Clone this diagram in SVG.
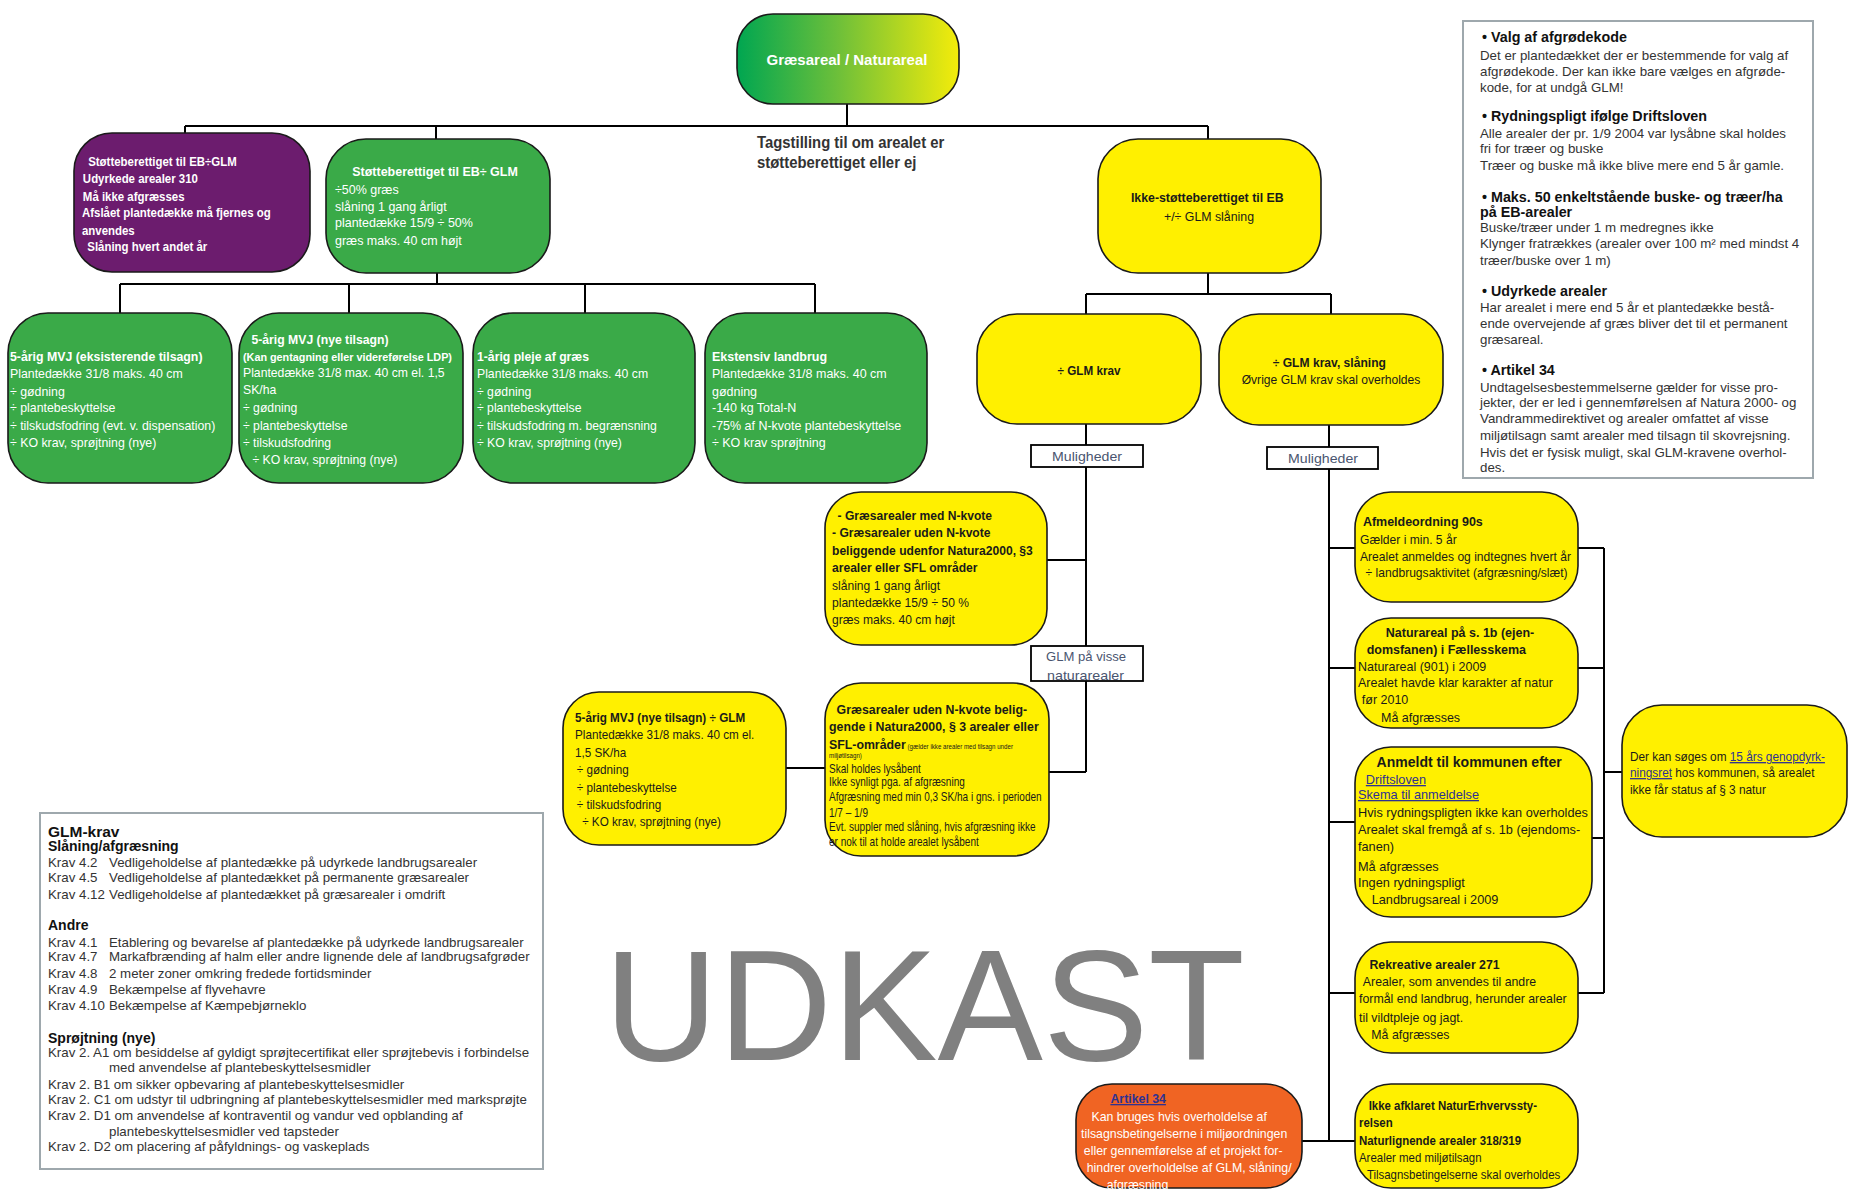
<svg xmlns="http://www.w3.org/2000/svg" width="1855" height="1189" viewBox="0 0 1855 1189">
<defs>
<linearGradient id="gTitle" x1="0" y1="0" x2="1" y2="0">
<stop offset="0" stop-color="#00a651"/>
<stop offset="0.45" stop-color="#6cbf3a"/>
<stop offset="1" stop-color="#f4ec0a"/>
</linearGradient>
<style>
.n{stroke:#1a1a1a;stroke-width:1.6}
.g{fill:#3aaa48}
.p{fill:#6c1c6e}
.y{fill:#fff000}
.o{fill:#f06423}
.c{fill:none;stroke:#000;stroke-width:2}
.box{fill:#fff;stroke:#000;stroke-width:1.8}
.leg{fill:none;stroke:#9ea8ad;stroke-width:2}
.t{font-family:"Liberation Sans",Arial,sans-serif;font-size:13px}
.s{font-family:"Liberation Sans",Arial,sans-serif;font-size:13.3px;fill:#333}
.w{fill:#fff}
.k{fill:#1a1a1a}
.b{font-weight:bold}
.lk{fill:#2e3192;text-decoration:underline}
.m{font-family:"Liberation Sans",Arial,sans-serif;font-size:13.5px;fill:#4a5570}
</style>
</defs>

<g id="connectors">
<path class="c" d="M847 104V126M185 126H1208M185 126V133M436 126V139M1208 126V139"/>
<path class="c" d="M437 273V284M120 284H815M120 284V313M349 284V313M585 284V313M815 284V313"/>
<path class="c" d="M1208 273V294M1086 294H1331M1086 294V314M1331 294V314"/>
<path class="c" d="M1086 424V445M1086 467V772M1047 560H1086M1049 772H1086M786 768H825"/>
<path class="c" d="M1329 425V447M1329 469V1141M1329 548H1355M1329 668H1355M1329 822H1355M1329 993H1355M1302 1141H1355"/>
<path class="c" d="M1604 548V993M1578 548H1604M1578 668H1604M1592 838H1604M1578 993H1604M1604 772H1622"/>
</g>

<g id="title">
<rect class="n" x="737" y="14" width="222" height="90" rx="36" fill="url(#gTitle)"/>
<text class="t w b" x="847" y="65" text-anchor="middle" style="font-size:15px">Græsareal / Naturareal</text>
</g>

<g id="label-tagstilling">
<g transform="matrix(0.93,0,0,1,52.99,0)">
<text class="t b" fill="#333" x="757" y="148" style="font-size:16px">Tagstilling til om arealet er</text>
<text class="t b" fill="#333" x="757" y="168" style="font-size:16px">støtteberettiget eller ej</text>
</g>
</g>

<g id="node-udyrkede">
<rect class="n p" x="74" y="133" width="236" height="139" rx="38"/>
<g transform="matrix(0.88,0,0,1,9.84,0)">
<text class="t w b">
<tspan x="89" y="166">Støtteberettiget til EB÷GLM</tspan>
<tspan x="83" y="183">Udyrkede arealer 310</tspan>
<tspan x="83" y="201">Må ikke afgræsses</tspan>
<tspan x="82" y="217">Afslået plantedække må fjernes og</tspan>
<tspan x="82" y="235">anvendes</tspan>
<tspan x="88" y="251"> Slåning hvert andet år</tspan>
</text>
</g>
</g>

<g id="node-stoette">
<rect class="n g" x="326" y="139" width="224" height="134" rx="40"/>
<g transform="matrix(0.96,0,0,1,13.4,0)">
<text class="t w">
<tspan class="b" x="353" y="176">Støtteberettiget til EB÷ GLM</tspan>
<tspan x="335" y="194">÷50% græs</tspan>
<tspan x="335" y="211">slåning 1 gang årligt</tspan>
<tspan x="335" y="227">plantedække 15/9 ÷ 50%</tspan>
<tspan x="335" y="245"> græs maks. 40 cm højt</tspan>
</text>
</g>
</g>

<g id="node-mvj-eks">
<rect class="n g" x="8" y="313" width="224" height="170" rx="40"/>
<g transform="matrix(0.95,0,0,1,0.5,0)">
<text class="t w">
<tspan class="b" x="10" y="361">5-årig MVJ (eksisterende tilsagn)</tspan>
<tspan x="10" y="378">Plantedække 31/8 maks. 40 cm</tspan>
<tspan x="10" y="396">÷ gødning</tspan>
<tspan x="10" y="412">÷ plantebeskyttelse</tspan>
<tspan x="10" y="430">÷ tilskudsfodring (evt. v. dispensation)</tspan>
<tspan x="10" y="447">÷ KO krav, sprøjtning (nye)</tspan>
</text>
</g>
</g>

<g id="node-mvj-nye">
<rect class="n g" x="239" y="313" width="224" height="170" rx="40"/>
<g transform="matrix(0.94,0,0,1,14.58,0)">
<text class="t w">
<tspan class="b" x="252" y="344">5-årig MVJ (nye tilsagn)</tspan>
<tspan class="b" x="243" y="361" font-size="11.5">(Kan gentagning eller videreførelse LDP)</tspan>
<tspan x="243" y="377">Plantedække 31/8 max. 40 cm el. 1,5</tspan>
<tspan x="243" y="394">SK/ha</tspan>
<tspan x="243" y="412">÷ gødning</tspan>
<tspan x="243" y="430">÷ plantebeskyttelse</tspan>
<tspan x="243" y="447">÷ tilskudsfodring</tspan>
<tspan x="253" y="464">÷ KO krav, sprøjtning (nye)</tspan>
</text>
</g>
</g>

<g id="node-pleje">
<rect class="n g" x="473" y="313" width="222" height="170" rx="40"/>
<g transform="matrix(0.94,0,0,1,28.62,0)">
<text class="t w">
<tspan class="b" x="477" y="361">1-årig pleje af græs</tspan>
<tspan x="477" y="378">Plantedække 31/8 maks. 40 cm</tspan>
<tspan x="477" y="396">÷ gødning</tspan>
<tspan x="477" y="412">÷ plantebeskyttelse</tspan>
<tspan x="477" y="430">÷ tilskudsfodring m. begrænsning</tspan>
<tspan x="477" y="447">÷ KO krav, sprøjtning (nye)</tspan>
</text>
</g>
</g>

<g id="node-ekstensiv">
<rect class="n g" x="705" y="313" width="222" height="170" rx="40"/>
<g transform="matrix(0.96,0,0,1,28.48,0)">
<text class="t w">
<tspan class="b" x="712" y="361">Ekstensiv landbrug</tspan>
<tspan x="712" y="378">Plantedække 31/8 maks. 40 cm</tspan>
<tspan x="712" y="396">gødning</tspan>
<tspan x="712" y="412">-140 kg Total-N</tspan>
<tspan x="712" y="430">-75% af N-kvote plantebeskyttelse</tspan>
<tspan x="712" y="447">÷ KO krav sprøjtning</tspan>
</text>
</g>
</g>

<g id="node-ikke-stoette">
<rect class="n y" x="1098" y="139" width="223" height="134" rx="40"/>
<g transform="matrix(0.95,0,0,1,60.45,0)">
<text class="t k" text-anchor="middle">
<tspan class="b" x="1209" y="202">Ikke-støtteberettiget til EB</tspan>
<tspan x="1209" y="221">+/÷ GLM slåning</tspan>
</text>
</g>
</g>

<g id="node-glm-krav">
<rect class="n y" x="977" y="314" width="224" height="110" rx="40"/>
<g transform="matrix(0.9,0,0,1,108.9,0)">
<text class="t k b" x="1089" y="375" text-anchor="middle">÷ GLM krav</text>
</g>
</g>

<g id="node-glm-slaaning">
<rect class="n y" x="1219" y="314" width="224" height="111" rx="40"/>
<g transform="matrix(0.93,0,0,1,93.17,0)">
<text class="t k" text-anchor="middle">
<tspan class="b" x="1331" y="367">÷ GLM krav, slåning</tspan>
<tspan x="1331" y="384">Øvrige GLM krav skal overholdes</tspan>
</text>
</g>
</g>

<g id="box-muligheder-1">
<rect class="box" x="1031" y="445" width="112" height="22"/>
<text class="m" x="1052" y="461" textLength="70" lengthAdjust="spacingAndGlyphs">Muligheder</text>
</g>
<g id="box-muligheder-2">
<rect class="box" x="1267" y="447" width="111" height="22"/>
<text class="m" x="1288" y="463" textLength="70" lengthAdjust="spacingAndGlyphs">Muligheder</text>
</g>

<g id="box-glm-visse">
<rect x="1031" y="646" width="112" height="35" fill="#fff"/>
<text class="m"><tspan x="1046" y="661" textLength="80" lengthAdjust="spacingAndGlyphs">GLM på visse</tspan></text>
<text class="m"><tspan x="1047" y="680" textLength="77" lengthAdjust="spacingAndGlyphs">naturarealer</tspan></text>
<rect x="1031" y="646" width="112" height="35" fill="none" stroke="#000" stroke-width="1.8"/>
</g>

<g id="node-n-kvote">
<rect class="n y" x="825" y="492" width="222" height="153" rx="36"/>
<g transform="matrix(0.93,0,0,1,58.24,0)">
<text class="t k">
<tspan class="b" x="838" y="520"> - Græsarealer med N-kvote</tspan>
<tspan class="b" x="832" y="537">- Græsarealer uden N-kvote</tspan>
<tspan class="b" x="832" y="555">beliggende udenfor Natura2000, §3</tspan>
<tspan class="b" x="832" y="572">arealer eller SFL områder</tspan>
<tspan x="832" y="590">slåning 1 gang årligt</tspan>
<tspan x="832" y="607">plantedække 15/9 ÷ 50 %</tspan>
<tspan x="832" y="624"> græs maks. 40 cm højt</tspan>
</text>
</g>
</g>

<g id="node-natura2000">
<rect class="n y" x="825" y="683" width="224" height="173" rx="36"/>
<g transform="matrix(0.95,0,0,1,41.45,0)">
<text class="t k">
<tspan class="b" x="837" y="714">Græsarealer uden N-kvote belig-</tspan>
<tspan class="b" x="829" y="731">gende i Natura2000, § 3 arealer eller</tspan>
<tspan class="b" x="829" y="749">SFL-områder</tspan><tspan font-size="6.5"> (gælder ikke arealer med tilsagn under</tspan>
<tspan font-size="6.5" x="829" y="758">miljøtilsagn)</tspan>
</text>
</g>
<g transform="matrix(0.835,0,0,1,136.785,0)">
<text class="t k" style="font-size:12px">
<tspan x="829" y="773">Skal holdes lysåbent</tspan>
<tspan x="829" y="786">Ikke synligt pga. af afgræsning</tspan>
<tspan x="829" y="801">Afgræsning med min 0,3 SK/ha i gns. i perioden</tspan>
<tspan x="829" y="817">1/7 – 1/9</tspan>
<tspan x="829" y="831">Evt. suppler med slåning, hvis afgræsning ikke</tspan>
<tspan x="829" y="846"> er nok til at holde arealet lysåbent</tspan>
</text>
</g>
</g>

<g id="node-mvj-glm">
<rect class="n y" x="563" y="692" width="223" height="153" rx="36"/>
<g transform="matrix(0.9,0,0,1,57.5,0)">
<text class="t k">
<tspan class="b" x="575" y="722">5-årig MVJ (nye tilsagn) ÷ GLM</tspan>
<tspan x="575" y="739">Plantedække 31/8 maks. 40 cm el.</tspan>
<tspan x="575" y="757">1,5 SK/ha</tspan>
<tspan x="577" y="774">÷ gødning</tspan>
<tspan x="577" y="792">÷ plantebeskyttelse</tspan>
<tspan x="577" y="809">÷ tilskudsfodring</tspan>
<tspan x="583" y="826">÷ KO krav, sprøjtning (nye)</tspan>
</text>
</g>
</g>

<g id="node-afmelde">
<rect class="n y" x="1355" y="492" width="223" height="110" rx="36"/>
<g transform="matrix(0.96,0,0,1,54.4,0)">
<text class="t k b" x="1363" y="526">Afmeldeordning 90s</text>
</g>
<g transform="matrix(0.93,0,0,1,95.2,0)">
<text class="t k">
<tspan x="1360" y="544">Gælder i min. 5 år</tspan>
<tspan x="1360" y="561">Arealet anmeldes og indtegnes hvert år</tspan>
<tspan x="1366" y="577"> ÷ landbrugsaktivitet (afgræsning/slæt)</tspan>
</text>
</g>
</g>

<g id="node-naturareal">
<rect class="n y" x="1355" y="618" width="223" height="110" rx="36"/>
<g transform="matrix(0.96,0,0,1,54.32,0)">
<text class="t k">
<tspan class="b" x="1387" y="637">Naturareal på s. 1b (ejen-</tspan>
<tspan class="b" x="1367" y="654">domsfanen) i Fællesskema</tspan>
<tspan x="1358" y="671">Naturareal (901) i 2009</tspan>
<tspan x="1358" y="687">Arealet havde klar karakter af natur</tspan>
<tspan x="1362" y="704">før 2010</tspan>
<tspan x="1382" y="722">Må afgræsses</tspan>
</text>
</g>
</g>

<g id="node-anmeldt">
<rect class="n y" x="1355" y="747" width="237" height="170" rx="36"/>
<g transform="matrix(0.98,0,0,1,27.16,0)">
<text class="t k">
<tspan class="b" x="1377" y="767" font-size="14.3">Anmeldt til kommunen efter</tspan>
<tspan class="lk" x="1366" y="784">Driftsloven</tspan>
<tspan class="lk" x="1358" y="799">Skema til anmeldelse</tspan>
<tspan x="1358" y="817">Hvis rydningspligten ikke kan overholdes</tspan>
<tspan x="1358" y="834">Arealet skal fremgå af s. 1b (ejendoms-</tspan>
<tspan x="1358" y="851">fanen)</tspan>
<tspan x="1358" y="871">Må afgræsses</tspan>
<tspan x="1358" y="887">Ingen rydningspligt</tspan>
<tspan x="1372" y="904">Landbrugsareal i 2009</tspan>
</text>
</g>
</g>

<g id="node-genopdyrk">
<rect class="n y" x="1622" y="705" width="225" height="132" rx="40"/>
<g transform="matrix(0.91,0,0,1,146.7,0)">
<text class="t k">
<tspan x="1630" y="761">Der kan søges om </tspan><tspan class="lk">15 års genopdyrk-</tspan>
<tspan class="lk" x="1630" y="777">ningsret</tspan><tspan> hos kommunen, så arealet</tspan>
<tspan x="1630" y="794">ikke får status af § 3 natur</tspan>
</text>
</g>
</g>

<g id="node-rekreative">
<rect class="n y" x="1355" y="942" width="223" height="111" rx="36"/>
<g transform="matrix(0.95,0,0,1,67.95,0)">
<text class="t k">
<tspan class="b" x="1370" y="969">Rekreative arealer 271</tspan>
<tspan x="1363" y="986">Arealer, som anvendes til andre</tspan>
<tspan x="1359" y="1003">formål end landbrug, herunder arealer</tspan>
<tspan x="1359" y="1022">til vildtpleje og jagt.</tspan>
<tspan x="1372" y="1039">Må afgræsses</tspan>
</text>
</g>
</g>

<g id="node-ikke-afklaret">
<rect class="n y" x="1355" y="1084" width="223" height="104" rx="36"/>
<g transform="matrix(0.88,0,0,1,163.08,0)">
<text class="t k">
<tspan class="b" x="1370" y="1110">Ikke afklaret NaturErhvervssty-</tspan>
<tspan class="b" x="1359" y="1127">relsen</tspan>
<tspan class="b" x="1359" y="1145">Naturlignende arealer 318/319</tspan>
<tspan x="1359" y="1162">Arealer med miljøtilsagn</tspan>
<tspan x="1368" y="1179">Tilsagnsbetingelserne skal overholdes</tspan>
</text>
</g>
</g>

<g id="node-artikel34">
<rect class="n o" x="1076" y="1084" width="226" height="104" rx="36"/>
<g transform="matrix(0.95,0,0,1,54.05,0)">
<text class="t w">
<tspan class="lk b" x="1112" y="1103">Artikel 34</tspan>
<tspan x="1092" y="1121">Kan bruges hvis overholdelse af</tspan>
<tspan x="1081" y="1138">tilsagnsbetingelserne i miljøordningen</tspan>
<tspan x="1084" y="1155">eller gennemførelse af et projekt for-</tspan>
<tspan x="1087" y="1172">hindrer overholdelse af GLM, slåning/</tspan>
<tspan x="1108" y="1189">afgræsning</tspan>
</text>
</g>
</g>

<g id="legend-right">
<rect class="leg" x="1463" y="21" width="350" height="457"/>
<text class="s">
<tspan class="b" fill="#111" font-size="14.3" x="1482" y="42">• Valg af afgrødekode</tspan>
<tspan x="1480" y="60">Det er plantedækket der er bestemmende for valg af</tspan>
<tspan x="1480" y="76">afgrødekode. Der kan ikke bare vælges en afgrøde-</tspan>
<tspan x="1480" y="92">kode, for at undgå GLM!</tspan>
<tspan class="b" fill="#111" font-size="14.3" x="1482" y="121">• Rydningspligt ifølge Driftsloven</tspan>
<tspan x="1480" y="138">Alle arealer der pr. 1/9 2004 var lysåbne skal holdes</tspan>
<tspan x="1480" y="153">fri for træer og buske</tspan>
<tspan x="1480" y="170">Træer og buske må ikke blive mere end 5 år gamle.</tspan>
<tspan class="b" fill="#111" font-size="14.3" x="1482" y="202">• Maks. 50 enkeltstående buske- og træer/ha</tspan>
<tspan class="b" fill="#111" font-size="14.3" x="1480" y="217">på EB-arealer</tspan>
<tspan x="1480" y="232">Buske/træer under 1 m medregnes ikke</tspan>
<tspan x="1480" y="248">Klynger fratrækkes (arealer over 100 m² med mindst 4</tspan>
<tspan x="1480" y="265">træer/buske over 1 m)</tspan>
<tspan class="b" fill="#111" font-size="14.3" x="1482" y="296">• Udyrkede arealer</tspan>
<tspan x="1480" y="312">Har arealet i mere end 5 år et plantedække bestå-</tspan>
<tspan x="1480" y="328">ende overvejende af græs bliver det til et permanent</tspan>
<tspan x="1480" y="344">græsareal.</tspan>
<tspan class="b" fill="#111" font-size="14.3" x="1482" y="375">• Artikel 34</tspan>
<tspan x="1480" y="392">Undtagelsesbestemmelserne gælder for visse pro-</tspan>
<tspan x="1480" y="407">jekter, der er led i gennemførelsen af Natura 2000- og</tspan>
<tspan x="1480" y="423">Vandrammedirektivet og arealer omfattet af visse</tspan>
<tspan x="1480" y="440">miljøtilsagn samt arealer med tilsagn til skovrejsning.</tspan>
<tspan x="1480" y="457">Hvis det er fysisk muligt, skal GLM-kravene overhol-</tspan>
<tspan x="1480" y="472">des.</tspan>
</text>
</g>

<g id="legend-bottom">
<rect class="leg" x="40" y="813" width="503" height="356"/>
<text class="s">
<tspan class="b" fill="#111" font-size="15.5" x="48" y="837">GLM-krav</tspan>
<tspan class="b" fill="#111" font-size="14" x="48" y="851">Slåning/afgræsning</tspan>
<tspan x="48" y="867">Krav 4.2</tspan><tspan x="109">Vedligeholdelse af plantedække på udyrkede landbrugsarealer</tspan>
<tspan x="48" y="882">Krav 4.5</tspan><tspan x="109">Vedligeholdelse af plantedækket på permanente græsarealer</tspan>
<tspan x="48" y="899">Krav 4.12</tspan><tspan x="109">Vedligeholdelse af plantedækket på græsarealer i omdrift</tspan>
<tspan class="b" fill="#111" font-size="14" x="48" y="930">Andre</tspan>
<tspan x="48" y="947">Krav 4.1</tspan><tspan x="109">Etablering og bevarelse af plantedække på udyrkede landbrugsarealer</tspan>
<tspan x="48" y="961">Krav 4.7</tspan><tspan x="109">Markafbrænding af halm eller andre lignende dele af landbrugsafgrøder</tspan>
<tspan x="48" y="978">Krav 4.8</tspan><tspan x="109">2 meter zoner omkring fredede fortidsminder</tspan>
<tspan x="48" y="994">Krav 4.9</tspan><tspan x="109">Bekæmpelse af flyvehavre</tspan>
<tspan x="48" y="1010">Krav 4.10</tspan><tspan x="109">Bekæmpelse af Kæmpebjørneklo</tspan>
<tspan class="b" fill="#111" font-size="14" x="48" y="1043">Sprøjtning (nye)</tspan>
<tspan x="48" y="1057">Krav 2. A1 om besiddelse af gyldigt sprøjtecertifikat eller sprøjtebevis i forbindelse</tspan>
<tspan x="109" y="1072">med anvendelse af plantebeskyttelsesmidler</tspan>
<tspan x="48" y="1089">Krav 2. B1 om sikker opbevaring af plantebeskyttelsesmidler</tspan>
<tspan x="48" y="1104">Krav 2. C1 om udstyr til udbringning af plantebeskyttelsesmidler med marksprøjte</tspan>
<tspan x="48" y="1120">Krav 2. D1 om anvendelse af kontraventil og vandur ved opblanding af</tspan>
<tspan x="109" y="1136">plantebeskyttelsesmidler ved tapsteder</tspan>
<tspan x="48" y="1151">Krav 2. D2 om placering af påfyldnings- og vaskeplads</tspan>
</text>
</g>

<text id="watermark" x="604" y="1060" font-family="Liberation Sans, Arial, sans-serif" font-size="158" fill="#808080">UDKAST</text>
</svg>
